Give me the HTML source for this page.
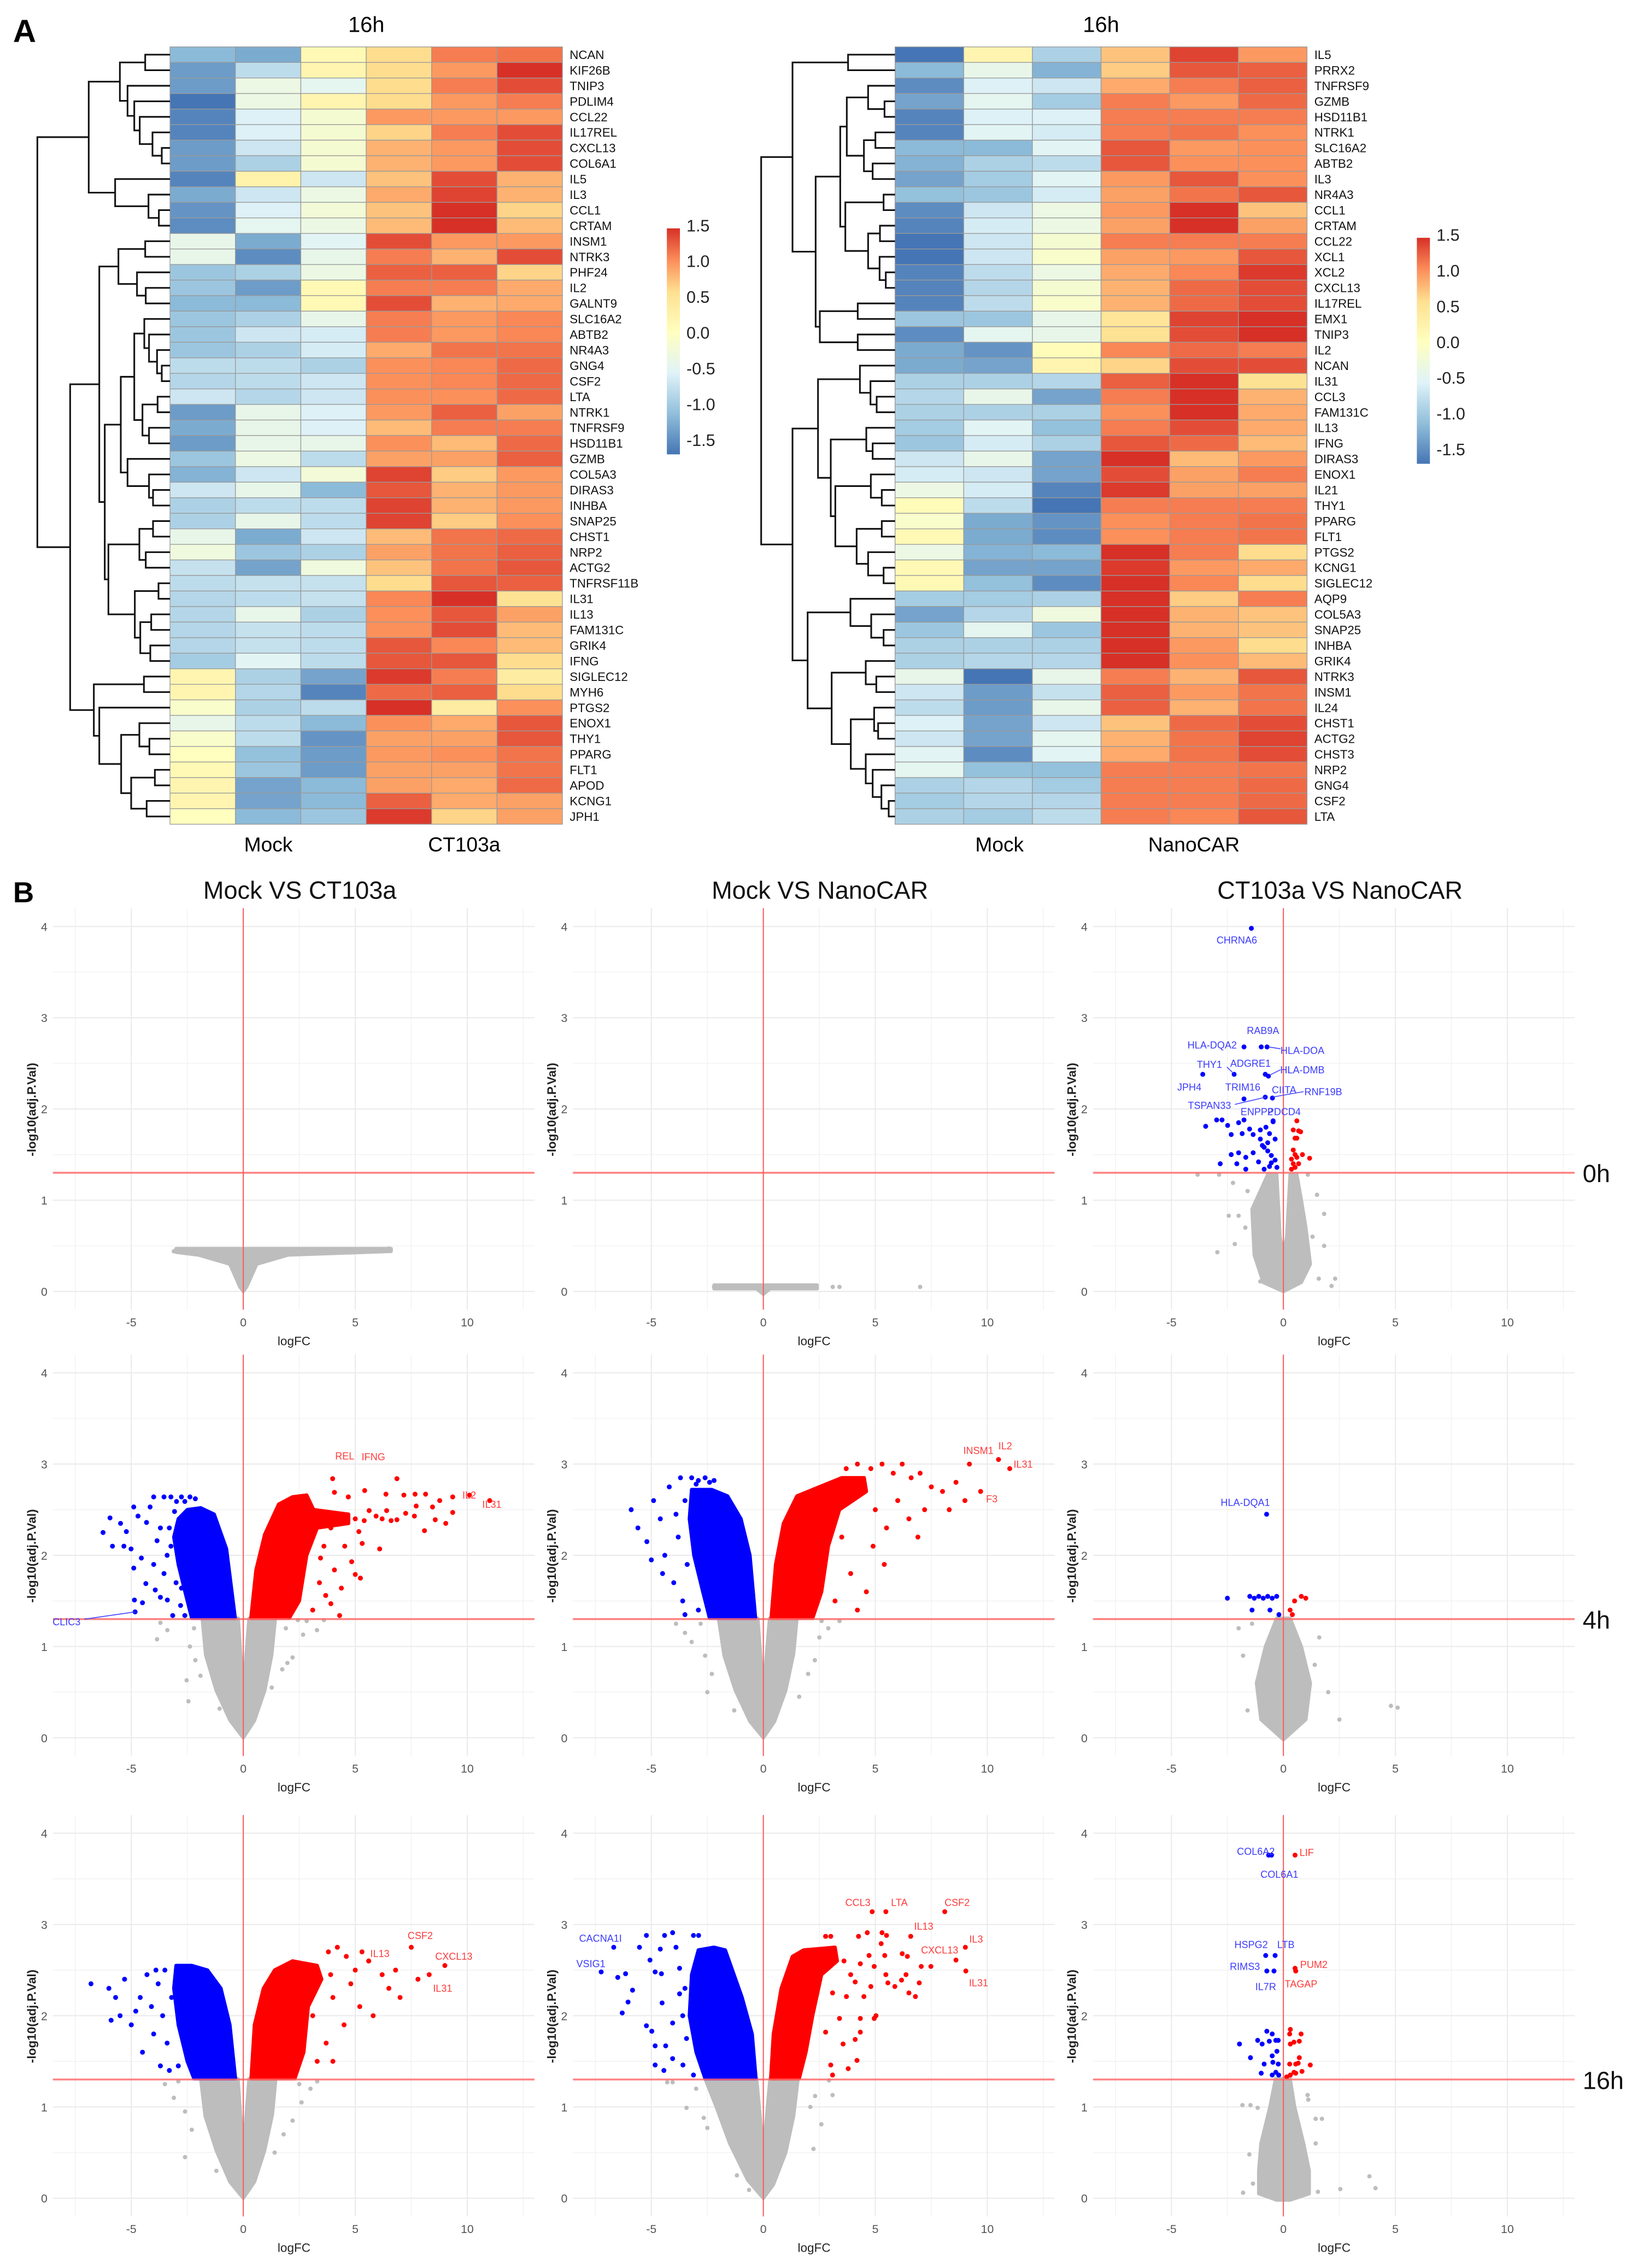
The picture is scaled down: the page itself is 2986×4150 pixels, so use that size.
<!DOCTYPE html>
<html><head><meta charset="utf-8"><title>Heatmaps and volcano plots</title>
<style>
html,body{margin:0;padding:0;background:#fff;}
svg{display:block;font-family:"Liberation Sans",Arial,sans-serif;}
</style></head>
<body>
<svg id="fig" xmlns="http://www.w3.org/2000/svg" width="2986" height="4150" viewBox="0 0 1125 1563.5">
<rect x="0" y="0" width="1125" height="1563.5" fill="#fff"/>
<defs>
<linearGradient id="lg" x1="0" y1="1" x2="0" y2="0">
<stop offset="0" stop-color="#4575B4"/><stop offset="0.18" stop-color="#91BFDB"/><stop offset="0.36" stop-color="#E0F3F8"/><stop offset="0.54" stop-color="#FFFFBF"/><stop offset="0.72" stop-color="#FEE090"/><stop offset="0.86" stop-color="#FC8D59"/><stop offset="1" stop-color="#D73027"/>
</linearGradient>
</defs>
<text x="9" y="29" font-size="22" font-weight="bold">A</text>
<text x="9" y="622" font-size="20" font-weight="bold">B</text>
<text x="252.5" y="22" font-size="15" text-anchor="middle">16h</text>
<text x="759" y="22" font-size="15" text-anchor="middle">16h</text>
<text x="185" y="587" font-size="14" text-anchor="middle">Mock</text>
<text x="320" y="587" font-size="14" text-anchor="middle">CT103a</text>
<text x="689" y="587" font-size="14" text-anchor="middle">Mock</text>
<text x="823" y="587" font-size="14" text-anchor="middle">NanoCAR</text>
</svg>
<script>
// ===== Heatmap data =====
const leftGenes = ["NCAN","KIF26B","TNIP3","PDLIM4","CCL22","IL17REL","CXCL13","COL6A1","IL5","IL3","CCL1","CRTAM","INSM1","NTRK3","PHF24","IL2","GALNT9","SLC16A2","ABTB2","NR4A3","GNG4","CSF2","LTA","NTRK1","TNFRSF9","HSD11B1","GZMB","COL5A3","DIRAS3","INHBA","SNAP25","CHST1","NRP2","ACTG2","TNFRSF11B","IL31","IL13","FAM131C","GRIK4","IFNG","SIGLEC12","MYH6","PTGS2","ENOX1","THY1","PPARG","FLT1","APOD","KCNG1","JPH1"];
const leftValues = [
[-1.0,-1.1,0.1,0.5,1.05,1.1],[-1.2,-0.7,0.15,0.5,0.9,1.45],[-1.2,-0.3,-0.4,0.5,1.05,1.3],[-1.6,-0.3,0.15,0.5,0.9,1.05],
[-1.35,-0.5,-0.15,0.9,0.9,0.9],[-1.35,-0.5,-0.15,0.55,1.05,1.3],[-1.2,-0.6,-0.15,0.75,0.9,1.3],[-1.2,-0.8,-0.15,0.75,0.9,1.3],
[-1.35,0.2,-0.6,0.65,1.3,0.75],[-1.1,-0.6,-0.3,0.8,1.35,0.75],[-1.25,-0.5,-0.2,0.65,1.6,0.55],[-1.3,-0.4,-0.3,0.7,1.45,0.7],
[-0.35,-1.1,-0.45,1.3,0.9,0.9],[-0.35,-1.3,-0.35,1.05,0.75,1.3],[-0.9,-0.8,-0.3,1.2,1.2,0.55],[-0.9,-1.2,0.1,1.05,1.05,0.8],
[-1.0,-1.0,0.1,1.3,0.75,0.8],[-0.9,-0.8,-0.35,1.05,0.9,1.0],[-0.9,-0.6,-0.55,1.05,0.9,1.0],[-0.9,-0.8,-0.55,0.8,1.1,1.1],
[-0.7,-0.7,-0.8,0.95,1.0,1.15],[-0.75,-0.7,-0.6,0.95,1.0,1.15],[-0.6,-0.75,-0.6,0.95,0.95,1.15],[-1.2,-0.35,-0.5,0.9,1.2,0.85],
[-1.1,-0.35,-0.5,0.7,1.05,1.05],[-1.2,-0.35,-0.35,0.95,0.7,1.15],[-0.9,-0.3,-0.7,0.85,0.85,1.2],[-1.05,-0.6,-0.2,1.35,0.6,0.9],
[-0.6,-0.35,-1.0,1.25,0.75,0.9],[-0.8,-0.7,-0.7,1.35,0.75,0.9],[-0.8,-0.35,-0.7,1.35,0.6,0.95],[-0.35,-1.1,-0.6,0.7,1.1,1.15],
[-0.25,-0.9,-0.8,0.85,1.1,1.2],[-0.65,-1.15,-0.25,0.65,1.1,1.25],[-0.7,-0.65,-0.65,0.5,1.25,1.2],[-0.75,-0.7,-0.65,1.0,1.45,0.45],
[-0.75,-0.35,-0.8,0.95,1.25,0.85],[-0.75,-0.65,-0.7,0.95,1.3,0.7],[-0.75,-0.65,-0.7,1.25,1.0,0.7],[-0.85,-0.45,-0.7,1.25,1.25,0.5],
[0.15,-0.8,-1.15,1.4,1.05,0.3],[0.15,-0.75,-1.35,1.15,1.2,0.5],[-0.1,-0.8,-0.7,1.7,0.3,0.95],[-0.35,-0.7,-1.0,0.95,0.8,1.25],
[-0.1,-0.7,-1.25,0.85,0.85,1.25],[0.0,-0.95,-1.2,0.9,0.95,1.1],[0.1,-0.9,-1.2,0.85,0.85,1.1],[0.15,-1.15,-1.0,0.85,0.8,1.15],
[0.15,-1.15,-1.0,1.2,0.8,0.85],[0.0,-1.0,-0.9,1.4,0.55,0.85]];
const rightGenes = ["IL5","PRRX2","TNFRSF9","GZMB","HSD11B1","NTRK1","SLC16A2","ABTB2","IL3","NR4A3","CCL1","CRTAM","CCL22","XCL1","XCL2","CXCL13","IL17REL","EMX1","TNIP3","IL2","NCAN","IL31","CCL3","FAM131C","IL13","IFNG","DIRAS3","ENOX1","IL21","THY1","PPARG","FLT1","PTGS2","KCNG1","SIGLEC12","AQP9","COL5A3","SNAP25","INHBA","GRIK4","NTRK3","INSM1","IL24","CHST1","ACTG2","CHST3","NRP2","GNG4","CSF2","LTA"];
const rightValues = [
[-1.6,0.15,-0.8,0.65,1.35,0.9],[-1.0,-0.35,-1.05,0.6,1.25,1.2],[-1.3,-0.5,-0.6,0.8,1.05,1.2],[-1.15,-0.4,-0.85,1.05,0.9,1.15],
[-1.35,-0.5,-0.5,1.05,1.05,1.05],[-1.35,-0.45,-0.55,1.05,1.1,0.95],[-1.0,-1.0,-0.45,1.25,0.9,0.95],[-1.05,-0.8,-0.7,1.25,0.95,0.95],
[-1.15,-0.85,-0.45,0.9,1.25,0.95],[-0.95,-0.9,-0.55,0.85,1.1,1.25],[-1.3,-0.6,-0.3,0.9,1.55,0.65],[-1.35,-0.55,-0.3,0.85,1.5,0.85],
[-1.45,-0.6,-0.15,1.05,1.05,1.05],[-1.6,-0.6,-0.1,0.85,0.9,1.25],[-1.35,-0.7,-0.3,0.8,1.0,1.4],[-1.35,-0.75,-0.15,0.75,1.15,1.3],
[-1.35,-0.7,-0.1,0.75,1.15,1.3],[-0.9,-0.9,-0.35,0.4,1.35,1.5],[-1.3,-0.4,-0.35,0.45,1.3,1.45],[-1.1,-1.25,0.05,1.0,1.15,1.05],
[-1.1,-1.15,0.15,0.55,1.3,1.3],[-0.8,-0.8,-0.75,1.2,1.55,0.45],[-0.75,-0.35,-1.15,1.05,1.45,0.75],[-0.8,-0.8,-0.8,0.95,1.45,0.8],
[-0.85,-0.45,-0.95,1.05,1.3,0.8],[-0.9,-0.55,-0.8,1.25,1.15,0.7],[-0.6,-0.35,-1.15,1.5,0.7,0.9],[-0.55,-0.6,-1.15,1.3,0.85,1.05],
[-0.3,-0.55,-1.35,1.4,0.85,0.85],[0.05,-0.7,-1.55,1.05,1.05,1.05],[-0.1,-1.1,-1.25,0.95,1.05,1.1],[0.1,-1.1,-1.3,0.95,1.05,1.1],
[-0.3,-1.05,-1.0,1.6,1.05,0.5],[0.1,-1.15,-1.15,1.4,0.9,0.8],[0.1,-0.95,-1.3,1.45,1.0,0.5],[-0.85,-0.85,-0.8,1.55,0.6,1.05],
[-1.15,-0.75,-0.25,1.65,0.75,0.65],[-0.9,-0.4,-0.9,1.65,0.75,0.65],[-0.8,-0.8,-0.8,1.65,0.9,0.5],[-0.8,-0.75,-0.75,1.5,0.95,0.7],
[-0.35,-1.55,-0.35,1.05,0.75,1.25],[-0.6,-1.2,-0.65,1.2,0.9,1.1],[-0.7,-1.2,-0.35,1.2,0.75,1.1],[-0.5,-1.15,-0.6,0.65,1.15,1.3],
[-0.6,-1.15,-0.4,0.75,1.1,1.35],[-0.45,-1.3,-0.45,0.8,1.1,1.3],[-0.4,-0.95,-0.95,1.05,1.05,1.1],[-0.8,-0.75,-0.85,1.05,1.05,1.15],
[-0.85,-0.75,-0.75,1.05,1.05,1.15],[-0.8,-0.85,-0.7,1.05,1.0,1.25]];
// dendrogram merge trees: [left, right, mergeHeight]
const leftTree = [[[[0,1,797],[2,[3,[4,[5,[6,7,888],837],767],737],700],658],[8,[9,[10,11,872],815],632],487],
 [[[[12,13,797],[14,[15,16,800],752],650],[[[[17,[18,[19,[20,21,888],862],818],792],[[22,23,865],[24,25,818],782],737],[26,[27,[28,29,840],818],700],663],[[[30,31,840],[32,33,800],765],[[34,35,870],[[36,37,830],[38,39,825],770],740],595],575],545],
 [[40,41,790],[42,[[43,[44,45,820],765],[[46,47,850],[48,49,805],720],665],545],515],385],205];
const rightTree = [[[0,1,665],[[[[2,[3,4,865],775],[[5,6,815],[7,8,800],752],658],[[9,10,860],[[11,12,840],[13,[14,15,872],838],775],650],622],[[16,17,718],[18,19,718],510],487],360],
 [[[20,[21,[22,23,822],788],730],[[24,[25,26,800],765],[[27,[28,29,850],790],[[30,31,850],[32,[33,34,860],775],712],595],570],500],
  [[35,[36,[37,38,860],792],678],[[39,[40,41,820],762],[[42,[43,44,830],808],[45,[46,[47,[48,49,888],848],800],762],680],575],443],360],188];
const legendTicks = [1.5,1.0,0.5,0.0,-0.5,-1.0,-1.5];

// ===== Volcano data (x = logFC, y = -log10 adj.P) =====
const xTicks = [-5,0,5,10];
const yTicks = [0,1,2,3,4];
const colTitles = ["Mock VS CT103a","Mock VS NanoCAR","CT103a VS NanoCAR"];
const rowTimes = ["0h","4h","16h"];
const pThreshold = 1.301;

const p11GreyArea = [[-3,0.43],[-3,0.47],[6.6,0.47],[6.6,0.44],[2,0.4],[0.6,0.3],[0.15,0.05],[0,0],[-0.15,0.05],[-0.6,0.3],[-2,0.4]];
const p11Grey = [[-3.1,0.44],[5.5,0.46],[6.5,0.47],[4.5,0.44],[-2.6,0.43]];
const p12GreyArea = [[-2.2,0.03],[-0.3,0.03],[0,-0.03],[0.3,0.03],[2.4,0.03],[2.4,0.07],[-2.2,0.07]];
const p12Grey = [[3.1,0.05],[3.4,0.05],[7.0,0.05],[2.3,0.05],[-2.2,0.05]];
const p13GreyArea = [[0,0],[0.8,0.1],[1.2,0.3],[1.0,0.7],[0.8,1.0],[0.6,1.28],[0.3,1.28],[0.15,0.6],[0,0.4],[-0.15,0.6],[-0.3,1.28],[-0.7,1.28],[-1.4,0.9],[-1.3,0.4],[-0.9,0.1]];
const p13Grey = [[-3.83,1.28],[-2.87,1.28],[-2.25,1.19],[-2.44,0.83],[-2.0,0.83],[-2.17,0.52],[-2.95,0.43],[-1.03,0.11],[2.15,0.06],[2.31,0.14],[1.58,0.14],[1.5,1.06],[1.82,0.85],[1.82,0.5],[1.09,1.28],[-1.6,1.1],[-1.7,0.7],[1.3,0.6]];
const p13Blue = [[-3.47,1.81],[-2.98,1.88],[-2.74,1.88],[-2.49,1.82],[-2.33,1.72],[-2.0,1.85],[-1.76,1.88],[-1.84,1.73],[-1.51,1.78],[-1.35,1.72],[-1.03,1.77],[-0.94,1.6],[-0.78,1.8],[-0.62,1.73],[-0.46,1.87],[-0.37,1.67],[-2.82,1.4],[-2.33,1.5],[-2.0,1.52],[-2.08,1.4],[-1.68,1.47],[-1.35,1.52],[-1.11,1.42],[-0.7,1.54],[-0.54,1.49],[-0.37,1.44],[-0.62,1.37],[-0.86,1.34],[-1.68,1.34],[-0.29,1.36],[-0.7,1.63],[-0.86,1.58],[-0.54,1.41],[-1.03,1.67],
 [-1.43,3.98],[-1.76,2.68],[-0.99,2.68],[-0.73,2.68],[-3.6,2.38],[-2.2,2.38],[-0.81,2.38],[-0.67,2.36],[-0.81,2.13],[-0.49,2.12],[-1.76,2.11],[-0.46,1.86]];
const p13Red = [[0.6,1.87],[0.44,1.77],[0.68,1.76],[0.77,1.75],[0.52,1.68],[0.6,1.68],[0.44,1.55],[0.52,1.5],[0.36,1.45],[0.6,1.47],[0.85,1.5],[1.17,1.46],[0.44,1.4],[0.68,1.4],[0.36,1.34],[0.52,1.36]];
const p13Labels = [["CHRNA6",-2.08,3.85,"b"],["RAB9A",-0.91,2.86,"b"],["HLA-DQA2",-3.18,2.7,"b"],["HLA-DOA",0.85,2.64,"b"],["THY1",-3.3,2.49,"b"],["ADGRE1",-1.47,2.5,"b"],["HLA-DMB",0.85,2.43,"b"],["JPH4",-4.2,2.24,"b"],["TRIM16",-1.81,2.24,"b"],["CIITA",0.03,2.21,"b"],["RNF19B",1.78,2.19,"b"],["TSPAN33",-3.3,2.04,"b"],["ENPP2",-1.19,1.97,"b"],["PDCD4",0.03,1.97,"b"]];
const p13Leaders = [[-0.67,2.68,-0.13,2.66],[-2.52,2.46,-2.23,2.39],[-0.62,2.37,-0.13,2.43],[-0.49,2.13,0.9,2.19],[-2.17,2.05,-0.78,2.13]];

const p21GreyArea = [[0,0],[0.5,0.19],[0.96,0.52],[1.27,0.91],[1.43,1.31],[0.26,1.31],[0,0.52],[-0.23,1.31],[-1.83,1.31],[-1.68,0.91],[-1.21,0.52],[-0.59,0.19]];
const p21Grey = [[-3.7,1.26],[-3.39,1.18],[-3.85,1.08],[-2.38,1.0],[-2.14,0.85],[-2.45,0.4],[-2.53,0.63],[-1.91,0.68],[3.29,1.18],[2.67,1.13],[2.83,1.28],[2.2,0.88],[1.97,0.82],[1.74,0.75],[1.27,0.55],[-1.06,0.32],[2.44,1.29],[3.6,1.29],[-2.2,1.2],[1.9,1.2]];
const p21BlueArea = [[-0.36,1.31],[-0.75,2.07],[-1.3,2.45],[-1.9,2.52],[-2.5,2.5],[-2.9,2.4],[-3.1,2.2],[-2.9,1.9],[-2.6,1.6],[-2.3,1.31]];
const p21Blue = [[-6.26,2.25],[-5.95,2.41],[-5.84,2.1],[-5.48,2.35],[-5.33,2.1],[-5.22,2.26],[-5.01,2.07],[-4.89,2.53],[-4.89,1.86],[-4.86,1.51],[-4.83,1.38],[-4.5,1.48],[-4.55,1.97],[-4.7,2.43],[-4.35,1.69],[-4.16,2.53],[-4.0,1.9],[-3.93,1.62],[-3.7,2.3],[-3.54,1.8],[-3.39,1.51],[-3.15,1.34],[-3.23,2.1],[-2.76,1.64],[-2.61,1.34],[-3.07,2.48],[-4.32,2.36],[-3.85,2.16],[-3.7,1.54],
 [-4.0,2.64],[-3.54,2.64],[-3.23,2.64],[-2.76,2.64],[-2.38,2.64],[-2.14,2.62],[-2.98,2.59],[-2.61,2.59],[-3.3,2.3],[-3.4,2.0],[-3.0,1.7],[-2.8,1.45]];
const p21RedArea = [[0.34,1.31],[0.57,1.84],[0.96,2.23],[1.58,2.56],[2.2,2.64],[2.83,2.66],[3.14,2.5],[4.7,2.45],[4.7,2.35],[3.3,2.3],[2.83,2.0],[2.5,1.5],[2.05,1.31]];
const p21Red = [[3.99,2.84],[6.86,2.84],[5.42,2.71],[6.37,2.67],[7.17,2.66],[7.67,2.67],[8.14,2.67],[8.77,2.6],[9.35,2.64],[10.1,2.66],[11.0,2.6],[9.35,2.47],[8.45,2.53],[7.72,2.54],[7.25,2.46],[6.86,2.39],[7.64,2.43],[8.57,2.39],[9.04,2.35],[8.09,2.27],[6.09,2.07],[5.23,1.75],[5.0,1.79],[4.84,1.93],[5.16,2.26],[4.38,1.64],[3.91,1.47],[4.3,1.34],[3.68,1.56],[5.93,2.43],[5.62,2.49],[4.69,2.64],[4.07,2.69],[6.4,2.49],[5.31,2.13],[4.53,2.1],[3.91,2.3],[3.45,1.97],[4.07,1.84],[5.0,2.4],[5.4,2.38],[6.2,2.4],[6.6,2.38],[3.4,1.7],[3.1,1.4],[3.6,2.1]];
const p21Labels = [["REL",4.53,3.09,"r"],["IFNG",5.81,3.08,"r"],["IL2",10.09,2.66,"r"],["IL31",11.1,2.56,"r"],["CLIC3",-7.89,1.27,"b"]];
const p21Leaders = [[-7.1,1.3,-4.83,1.38]];

const p22GreyArea = [[0,0],[0.5,0.18],[1.0,0.52],[1.35,0.92],[1.5,1.31],[0.28,1.31],[0,0.5],[-0.25,1.31],[-2.0,1.31],[-1.75,0.9],[-1.25,0.52],[-0.6,0.18]];
const p22Grey = [[-3.9,1.25],[-3.5,1.15],[-3.2,1.05],[-2.6,0.9],[-2.3,0.7],[-2.5,0.5],[-1.3,0.3],[2.9,1.2],[2.5,1.1],[2.3,0.85],[2.0,0.7],[1.6,0.45],[3.4,1.28],[2.6,1.28],[-2.8,1.25]];
const p22BlueArea = [[-0.35,1.31],[-0.6,2.0],[-1.0,2.4],[-1.6,2.65],[-2.3,2.72],[-3.2,2.72],[-3.3,2.4],[-3.1,2.0],[-2.7,1.6],[-2.4,1.31]];
const p22Blue = [[-5.9,2.5],[-5.6,2.3],[-5.2,2.15],[-4.9,2.6],[-4.6,2.4],[-4.4,2.0],[-4.2,2.75],[-4.0,1.7],[-3.8,2.2],[-3.6,1.5],[-3.5,2.6],[-4.5,1.8],[-5.0,1.95],[-3.4,1.9],[-3.7,2.85],[-3.2,2.85],[-2.6,2.85],[-2.2,2.82],[-2.9,2.82],[-3.0,2.78],[-2.4,2.8],[-3.9,2.45],[-3.5,1.35],[-2.9,1.4]];
const p22RedArea = [[0.35,1.31],[0.55,1.9],[0.9,2.35],[1.5,2.65],[2.5,2.75],[3.5,2.85],[4.5,2.85],[4.6,2.7],[3.4,2.5],[2.9,2.1],[2.6,1.6],[2.2,1.31]];
const p22Red = [[4.8,2.95],[5.3,3.0],[5.8,2.9],[6.2,3.0],[6.6,2.85],[7.0,2.9],[7.5,2.75],[8.0,2.7],[8.6,2.8],[5.0,2.5],[5.5,2.3],[6.0,2.6],[6.5,2.4],[7.2,2.5],[4.9,2.1],[5.4,1.9],[4.6,1.6],[4.2,1.4],[6.9,2.2],[3.9,1.8],[8.3,2.5],[9.0,2.6],[9.2,3.0],[10.5,3.05],[11.0,2.95],[9.7,2.7],[3.7,2.95],[4.2,3.0],[3.5,2.2],[3.2,1.5]];
const p22Labels = [["INSM1",9.6,3.15,"r"],["IL2",10.8,3.2,"r"],["IL31",11.6,3.0,"r"],["F3",10.2,2.62,"r"]];

const p23GreyArea = [[-0.3,1.31],[-0.8,1.0],[-1.2,0.6],[-1.0,0.2],[0,-0.02],[1.0,0.2],[1.2,0.6],[0.8,1.0],[0.3,1.31]];
const p23Grey = [[-2.0,1.2],[-1.8,0.9],[2.0,0.5],[4.8,0.35],[5.1,0.33],[1.6,1.1],[-1.6,0.3],[2.5,0.2],[-1.4,1.25],[1.4,0.8]];
const p23Blue = [[-2.5,1.53],[-1.5,1.55],[-1.3,1.53],[-1.1,1.55],[-0.9,1.53],[-0.7,1.55],[-0.5,1.53],[-0.3,1.55],[-1.4,1.4],[-0.6,1.4],[-0.2,1.35],[-0.75,2.45]];
const p23Red = [[0.5,1.5],[0.8,1.55],[1.0,1.53],[0.4,1.35],[0.3,1.4]];
const p23Labels = [["HLA-DQA1",-1.7,2.58,"b"]];

const p31GreyArea = [[0,0],[0.5,0.18],[0.95,0.52],[1.3,0.92],[1.45,1.31],[0.26,1.31],[0,0.5],[-0.24,1.31],[-1.9,1.31],[-1.7,0.9],[-1.2,0.52],[-0.6,0.18]];
const p31Grey = [[-3.5,1.25],[-3.1,1.1],[-2.6,0.95],[-2.3,0.75],[-2.6,0.45],[-1.2,0.3],[3.0,1.2],[2.6,1.05],[2.2,0.85],[1.8,0.7],[1.4,0.5],[3.3,1.28],[-2.9,1.28],[2.5,1.25]];
const p31BlueArea = [[-0.35,1.31],[-0.6,1.9],[-1.0,2.3],[-1.6,2.5],[-2.3,2.55],[-3.0,2.55],[-3.1,2.3],[-2.9,1.9],[-2.5,1.5],[-2.2,1.31]];
const p31Blue = [[-6.8,2.35],[-6.0,2.3],[-5.7,2.2],[-5.3,2.4],[-5.0,1.9],[-4.8,2.05],[-4.6,2.2],[-4.5,1.6],[-4.3,2.45],[-4.0,1.8],[-3.8,2.35],[-3.7,1.45],[-3.6,2.0],[-3.5,2.5],[-3.4,1.7],[-3.3,1.4],[-5.5,2.0],[-4.1,2.1],[-3.2,2.2],[-2.9,1.45],[-3.9,2.5],[-5.9,1.95]];
const p31RedArea = [[0.35,1.31],[0.5,1.9],[0.9,2.3],[1.4,2.5],[2.2,2.6],[3.3,2.55],[3.5,2.4],[2.9,2.1],[2.7,1.6],[2.3,1.31]];
const p31Red = [[3.8,2.7],[4.2,2.75],[4.6,2.65],[5.0,2.5],[5.3,2.7],[5.6,2.6],[6.2,2.45],[6.5,2.3],[7.0,2.2],[7.5,2.75],[7.8,2.4],[8.3,2.45],[9.0,2.55],[4.0,2.2],[4.5,1.9],[5.2,2.1],[3.7,1.7],[4.0,1.5],[5.8,2.0],[6.8,2.5],[4.8,2.35],[3.9,2.45],[5.6,2.6],[3.3,1.5],[3.1,2.0]];
const p31Labels = [["CSF2",7.9,2.88,"r"],["IL13",6.1,2.68,"r"],["CXCL13",9.4,2.65,"r"],["IL31",8.9,2.3,"r"]];

const p32GreyArea = [[0,0],[0.45,0.15],[1.0,0.5],[1.35,0.9],[1.55,1.31],[0.3,1.31],[0,0.5],[-0.3,1.31],[-2.6,1.31],[-2.1,1.0],[-1.5,0.6],[-0.7,0.2]];
const p32Grey = [[-4.29,1.27],[-4.05,1.27],[-3.43,0.99],[-2.5,0.77],[-2.66,0.88],[-1.18,0.25],[-0.64,0.09],[2.24,0.54],[2.59,0.81],[3.09,1.13],[2.31,1.12],[2.93,1.29],[-3.0,1.2],[2.1,1.0]];
const p32BlueArea = [[-0.33,1.31],[-0.5,1.8],[-0.95,2.2],[-1.7,2.72],[-2.2,2.75],[-2.9,2.72],[-3.2,2.45],[-3.3,2.0],[-3.0,1.6],[-2.6,1.31]];
const p32Blue = [[-6.3,2.03],[-6.04,2.15],[-6.5,2.42],[-6.15,2.46],[-5.84,2.28],[-5.53,2.75],[-5.22,2.88],[-5.06,2.61],[-4.83,2.48],[-4.83,1.67],[-4.83,1.46],[-4.41,2.88],[-4.05,2.91],[-4.6,2.73],[-4.55,2.46],[-4.52,2.14],[-4.36,1.67],[-4.44,1.4],[-3.9,2.75],[-5.22,1.89],[-4.98,1.83],[-4.05,1.92],[-3.74,2.24],[-3.12,2.88],[-2.89,2.88],[-4.05,1.53],[-3.59,1.46],[-3.43,1.75],[-3.12,1.35],[-3.74,2.52],[-6.68,2.75],[-7.24,2.48],[-3.5,2.3],[-3.6,2.0]];
const p32RedArea = [[0.33,1.31],[0.45,1.8],[0.8,2.3],[1.3,2.65],[1.8,2.72],[3.2,2.75],[3.3,2.6],[2.6,2.45],[2.2,2.0],[1.9,1.6],[1.6,1.31]];
const p32Red = [[2.78,2.87],[3.01,2.87],[4.25,2.87],[4.64,2.91],[5.3,2.91],[5.5,2.88],[5.26,2.79],[6.2,2.68],[6.43,2.65],[5.42,2.66],[4.72,2.66],[4.33,2.57],[4.95,2.54],[5.47,2.45],[7.05,2.54],[7.48,2.54],[6.37,2.45],[6.17,2.39],[6.96,2.36],[6.5,2.25],[6.79,2.21],[5.87,2.32],[5.56,2.36],[4.8,2.32],[4.49,2.21],[4.1,2.37],[3.71,2.21],[5.03,2.0],[4.33,1.97],[4.95,1.97],[4.1,1.74],[4.33,1.82],[4.18,1.51],[3.56,1.69],[3.01,1.46],[3.79,1.42],[3.09,1.35],[2.78,1.82],[3.4,1.97],[3.09,2.25],
 [4.86,3.14],[5.47,3.14],[8.1,3.14],[6.58,2.87],[9.02,2.75],[8.6,2.61],[9.04,2.49],[3.6,2.6],[3.9,2.45]];
const p32Labels = [["CACNA1I",-7.27,2.85,"b"],["VSIG1",-7.7,2.57,"b"],["CCL3",4.22,3.24,"r"],["LTA",6.07,3.24,"r"],["CSF2",8.65,3.24,"r"],["IL13",7.16,2.98,"r"],["IL3",9.5,2.84,"r"],["CXCL13",7.87,2.72,"r"],["IL31",9.61,2.36,"r"]];

const p33GreyArea = [[-0.35,1.31],[-0.6,1.0],[-1.0,0.6],[-1.1,0.3],[-1.1,0.05],[-0.3,-0.02],[0.3,-0.02],[1.15,0.05],[1.15,0.3],[0.9,0.6],[0.5,1.0],[0.3,1.31]];
const p33Grey = [[-1.83,1.02],[-1.47,1.02],[-1.15,0.99],[1.08,1.13],[1.11,1.08],[1.44,0.87],[1.72,0.87],[1.44,0.6],[-1.52,0.48],[-1.36,0.16],[-1.8,0.06],[-1.02,0.08],[1.54,0.07],[2.54,0.1],[3.84,0.24],[4.11,0.11]];
const p33Blue = [[-1.96,1.69],[-1.47,1.54],[-1.15,1.73],[-0.95,1.69],[-0.74,1.83],[-0.5,1.8],[-0.63,1.72],[-0.34,1.73],[-0.23,1.73],[-0.29,1.61],[-0.5,1.56],[-0.86,1.47],[-0.47,1.49],[-0.23,1.47],[-0.99,1.37],[-0.5,1.35],[-0.34,1.38],[-0.21,1.35],
 [-0.66,3.76],[-0.53,3.76],[-0.79,2.66],[-0.37,2.66],[-0.74,2.49],[-0.42,2.49]];
const p33Red = [[0.31,1.85],[0.28,1.8],[0.79,1.8],[0.31,1.69],[0.47,1.71],[0.71,1.72],[0.71,1.54],[0.28,1.47],[0.55,1.47],[0.66,1.48],[1.2,1.46],[0.83,1.39],[0.47,1.38],[0.31,1.35],[0.55,1.37],[0.15,1.33],
 [0.52,3.76],[0.52,2.52],[0.55,2.49]];
const p33Labels = [["COL6A2",-1.23,3.8,"b"],["LIF",1.04,3.79,"r"],["COL6A1",-0.18,3.55,"b"],["HSPG2",-1.44,2.78,"b"],["LTB",0.11,2.78,"b"],["RIMS3",-1.72,2.54,"b"],["PUM2",1.36,2.56,"r"],["IL7R",-0.79,2.32,"b"],["TAGAP",0.79,2.35,"r"]];

// ===== Rendering =====
const NS = 'http://www.w3.org/2000/svg';
const svg = document.getElementById('fig');
function E(tag, a, parent) {
  const e = document.createElementNS(NS, tag);
  for (const k in a) e.setAttribute(k, a[k]);
  (parent || svg).appendChild(e);
  return e;
}
const cStops = [-1.45,-0.97,-0.48,0,0.48,0.97,1.45];
const cCols = [[69,117,180],[145,191,219],[224,243,248],[255,255,191],[254,224,144],[252,141,89],[215,48,39]];
function heatColor(v) {
  if (v <= cStops[0]) v = cStops[0];
  if (v >= cStops[6]) v = cStops[6];
  for (let i = 0; i < 6; i++) {
    if (v <= cStops[i+1]) {
      const t = (v - cStops[i]) / (cStops[i+1] - cStops[i]);
      const c = cCols[i].map((a, k) => Math.round(a + (cCols[i+1][k] - a) * t));
      return 'rgb(' + c.join(',') + ')';
    }
  }
  return 'rgb(215,48,39)';
}
const HY0 = 32.3, HY1 = 568.2;
const rowH = (HY1 - HY0) / 50;
function drawHeat(vals, genes, hx0, hx1, side) {
  const g = E('g', {});
  
  
  const w = (hx1 - hx0) / 6;
  vals.forEach((row, i) => {
    row.forEach((v, j) => {
      const r = E('rect', {x: hx0 + j*w, y: HY0 + i*rowH, width: w, height: rowH, fill: heatColor(v), stroke: '#9a9a9a', 'stroke-width': 0.5}, g);
      
      
    });
    const t = E('text', {x: hx1 + 5, y: HY0 + (i + 0.5)*rowH + 3, 'font-size': 8.4, fill: '#111'}, g);
    t.textContent = genes[i];
    
    
  });
}
try { drawHeat(leftValues, leftGenes, 117.2, 387.7, 'left'); } catch (e) { console.log(e); }
try { drawHeat(rightValues, rightGenes, 617, 901, 'right'); } catch (e) { console.log(e); }

function drawTree(tree, toX, leafX, side) {
  const g = E('g', {stroke: '#111', 'stroke-width': 1.15, fill: 'none'});
  
  
  function rec(node) {
    if (typeof node === 'number') return {x: leafX, y: HY0 + (node + 0.5)*rowH};
    const a = rec(node[0]), b = rec(node[1]);
    const hx = toX(node[2]);
    const p = E('path', {d: 'M' + a.x + ',' + a.y + 'H' + hx + 'V' + b.y + 'H' + b.x}, g);
    
    
    return {x: hx, y: (a.y + b.y) / 2};
  }
  rec(tree);
}
try { drawTree(leftTree, h => (h/3)/2.6542, 117.2, 'left'); } catch (e) { console.log(e); }
try { drawTree(rightTree, h => (1330 + h/3)/2.6542, 617, 'right'); } catch (e) { console.log(e); }

function drawLegend(bx, by0, side) {
  const g = E('g', {});
  
  
  const zeroY = by0 + 71.9, per = 49.3;
  const bar = E('rect', {x: bx, y: zeroY - 1.46*per, width: 9, height: (1.46 + 1.7)*per, fill: 'url(#lg)'}, g);
  
  
  legendTicks.forEach(v => {
    const t = E('text', {x: bx + 13.5, y: zeroY - v*per + 4, 'font-size': 11.5, fill: '#222'}, g);
    t.textContent = v.toFixed(1);
    
    
  });
}
try { drawLegend(459.7, 157.5, 'left'); drawLegend(976.7, 164, 'right'); } catch (e) { console.log(e); }

// Volcano panels
const UX = 15.44, UY = 62.9;
const colX0 = [167.7, 526.2, 884.7];
const rowY0 = [890.3, 1198, 1515.4];
const panels = [
 {r:0,c:0,ga:p11GreyArea,g:p11Grey},
 {r:0,c:1,ga:p12GreyArea,g:p12Grey},
 {r:0,c:2,ga:p13GreyArea,g:p13Grey,b:p13Blue,rd:p13Red,lab:p13Labels,lead:p13Leaders},
 {r:1,c:0,ga:p21GreyArea,g:p21Grey,ba:p21BlueArea,b:p21Blue,ra:p21RedArea,rd:p21Red,lab:p21Labels,lead:p21Leaders},
 {r:1,c:1,ga:p22GreyArea,g:p22Grey,ba:p22BlueArea,b:p22Blue,ra:p22RedArea,rd:p22Red,lab:p22Labels},
 {r:1,c:2,ga:p23GreyArea,g:p23Grey,b:p23Blue,rd:p23Red,lab:p23Labels},
 {r:2,c:0,ga:p31GreyArea,g:p31Grey,ba:p31BlueArea,b:p31Blue,ra:p31RedArea,rd:p31Red,lab:p31Labels},
 {r:2,c:1,ga:p32GreyArea,g:p32Grey,ba:p32BlueArea,b:p32Blue,ra:p32RedArea,rd:p32Red,lab:p32Labels},
 {r:2,c:2,ga:p33GreyArea,g:p33Grey,b:p33Blue,rd:p33Red,lab:p33Labels}
];
function drawPanel(p) {
  const X0 = colX0[p.c], Y0 = rowY0[p.r];
  const sx = v => X0 + v*UX, sy = v => Y0 - v*UY;
  const g = E('g', {});
  
  
  const gx0 = sx(-8.5), gx1 = sx(13), gy0 = sy(4.2), gy1 = sy(-0.2);
  [-7.5,-2.5,2.5,7.5,12.5].forEach(v => {
    const l = E('line', {x1: sx(v), x2: sx(v), y1: gy0, y2: gy1, stroke: '#f3f3f3', 'stroke-width': 0.6}, g);
     
  });
  [0.5,1.5,2.5,3.5].forEach(v => {
    const l = E('line', {x1: gx0, x2: gx1, y1: sy(v), y2: sy(v), stroke: '#f3f3f3', 'stroke-width': 0.6}, g);
     
  });
  xTicks.forEach(v => {
    const l = E('line', {x1: sx(v), x2: sx(v), y1: gy0, y2: gy1, stroke: '#ebebeb', 'stroke-width': 0.8}, g);
     
    const t = E('text', {x: sx(v), y: Y0 + 24, 'font-size': 8, fill: '#555', 'text-anchor': 'middle'}, g);
    t.textContent = String(v);
     
  });
  yTicks.forEach(v => {
    const l = E('line', {x1: gx0, x2: gx1, y1: sy(v), y2: sy(v), stroke: '#ebebeb', 'stroke-width': 0.8}, g);
     
    const t = E('text', {x: X0 - 135, y: sy(v) + 3, 'font-size': 8, fill: '#555', 'text-anchor': 'end'}, g);
    t.textContent = String(v);
     
  });
  const xt = E('text', {x: X0 + 35, y: Y0 + 37, 'font-size': 8.5, fill: '#222', 'text-anchor': 'middle'}, g);
  xt.textContent = 'logFC';
   
  const yt = E('text', {x: 0, y: 0, 'font-size': 8.5, 'font-weight': 'bold', fill: '#222', 'text-anchor': 'middle', transform: 'translate(' + (X0 - 143) + ',' + (Y0 - 125.4) + ') rotate(-90)'}, g);
  yt.textContent = '-log10(adj.P.Val)';
   
  function area(arr, col, name) {
    if (!arr) return;
    const pg = E('polygon', {points: arr.map(q => sx(q[0]).toFixed(2) + ',' + sy(q[1]).toFixed(2)).join(' '), fill: col, stroke: col, 'stroke-width': 2.4, 'stroke-linejoin': 'round'}, g);
     
  }
  function pts(arr, col, r, name) {
    if (!arr) return;
    arr.forEach(q => {
      const c = E('circle', {cx: sx(q[0]), cy: sy(q[1]), r: r, fill: col}, g);
       
    });
  }
  area(p.ga, '#bdbdbd', 'nonsignificant-gene-cloud');
  pts(p.g, '#bdbdbd', 1.5, 'nonsignificant-gene-point');
  area(p.ba, '#0000ff', 'downregulated-gene-cloud');
  pts(p.b, '#0000ff', 1.7, 'downregulated-gene-point');
  area(p.ra, '#ff0000', 'upregulated-gene-cloud');
  pts(p.rd, '#ff0000', 1.7, 'upregulated-gene-point');
  const th = E('line', {x1: gx0, x2: gx1, y1: sy(pThreshold), y2: sy(pThreshold), stroke: '#ff6a6a', 'stroke-width': 1.3, 'stroke-opacity': 0.85}, g);
   
  const vl = E('line', {x1: sx(0), x2: sx(0), y1: gy0, y2: gy1, stroke: '#ff5a5a', 'stroke-width': 0.75}, g);
   
  if (p.lead) p.lead.forEach(s => {
    const l = E('line', {x1: sx(s[0]), y1: sy(s[1]), x2: sx(s[2]), y2: sy(s[3]), stroke: '#4040ff', 'stroke-width': 0.6}, g);
     
  });
  if (p.lab) p.lab.forEach(L => {
    const t = E('text', {x: sx(L[1]), y: sy(L[2]) + 2.4, 'font-size': 6.8, fill: L[3] === 'b' ? '#3b3bff' : '#ff3b3b', 'text-anchor': 'middle'}, g);
    t.textContent = L[0];
     
  });
}
panels.forEach(p => { try { drawPanel(p); } catch (e) { console.log(e); } });
colTitles.forEach((s, c) => {
  const t = E('text', {x: colX0[c] + 39, y: 619.5, 'font-size': 17, fill: '#111', 'text-anchor': 'middle'});
  t.textContent = s;
  
  
});
rowTimes.forEach((s, r) => {
  const t = E('text', {x: 1091, y: rowY0[r] - pThreshold*UY + 6.5, 'font-size': 17, fill: '#111'});
  t.textContent = s;
  
  
});
</script>
</body></html>
